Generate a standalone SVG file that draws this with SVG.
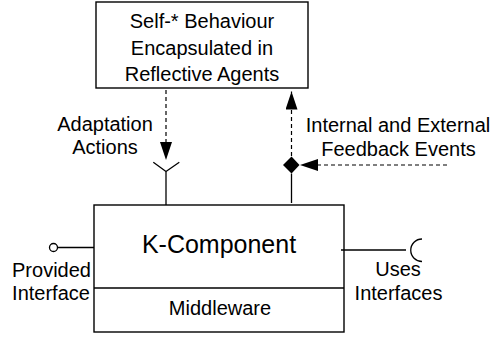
<svg xmlns="http://www.w3.org/2000/svg" width="493" height="337" viewBox="0 0 493 337">
<style>
.box{fill:#fff;stroke:#000;stroke-width:1.4}
.ln{fill:none;stroke:#000;stroke-width:1.3}
.dash{fill:none;stroke:#000;stroke-width:1.2;stroke-dasharray:4 3}
.t{font-family:"Liberation Sans",Arial,sans-serif;font-size:20px;fill:#000;text-anchor:middle}
.big{font-size:25px}
</style>
<defs>
<marker id="ah" viewBox="0 0 18 12" refX="18" refY="6" markerWidth="18" markerHeight="12" markerUnits="userSpaceOnUse" orient="auto">
<path d="M0,0 L18,6 L0,12 Z" fill="#000"/>
</marker>
</defs>
<rect width="493" height="337" fill="#fff"/>
<g id="agents">
<rect class="box" x="96" y="2" width="212" height="86"/>
<text class="t" x="202" y="28">Self-* Behaviour</text>
<text class="t" x="202" y="54.5">Encapsulated in</text>
<text class="t" x="202" y="81">Reflective Agents</text>
</g>
<g id="kcomponent">
<rect class="box" x="94" y="205" width="250" height="127"/>
<line class="ln" x1="94" y1="288" x2="344" y2="288"/>
<text class="t big" x="219" y="253">K-Component</text>
<text class="t" x="220" y="315">Middleware</text>
</g>
<g id="provided">
<circle class="ln" cx="53.5" cy="247.5" r="4"/>
<line class="ln" x1="57.5" y1="247.5" x2="94" y2="247.5"/>
<text class="t" x="51.5" y="277">Provided</text>
<text class="t" x="51" y="300">Interface</text>
</g>
<g id="uses">
<line class="ln" x1="341" y1="250" x2="406" y2="250"/>
<path class="ln" d="M422,239 A11,11 0 0 0 422,261.5"/>
<text class="t" x="398" y="276">Uses</text>
<text class="t" x="398.5" y="299.5">Interfaces</text>
</g>
<g id="connectors">
<line class="dash" x1="166" y1="90" x2="166" y2="160" marker-end="url(#ah)"/>
<polyline class="ln" points="153.3,162.3 166,171.5 179.3,162.3"/>
<line class="ln" x1="166" y1="171.5" x2="166" y2="205"/>
<line class="ln" x1="291.5" y1="173.5" x2="291.5" y2="203"/>
<path d="M291.5,156.5 L299.5,165 L291.5,173.5 L283,165 Z" fill="#000"/>
<line class="dash" x1="291.5" y1="156" x2="291.5" y2="91.5" marker-end="url(#ah)"/>
<line class="dash" x1="447" y1="165" x2="300" y2="165" marker-end="url(#ah)"/>
<text class="t" x="105" y="130.5">Adaptation</text>
<text class="t" x="105" y="154">Actions</text>
<text class="t" x="398" y="132">Internal and External</text>
<text class="t" x="398.5" y="156">Feedback Events</text>
</g>
</svg>
